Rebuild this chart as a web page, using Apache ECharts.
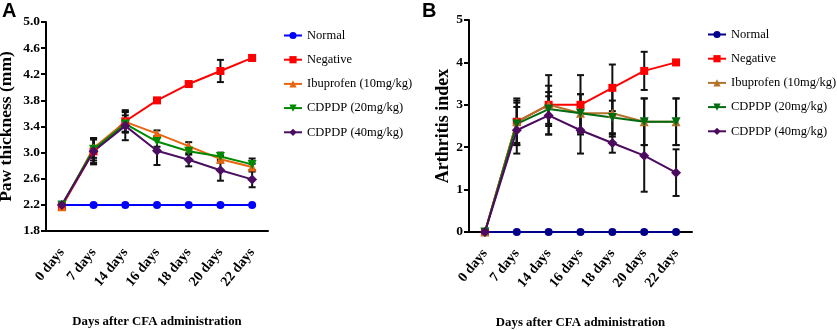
<!DOCTYPE html>
<html><head><meta charset="utf-8">
<script src="https://cdn.jsdelivr.net/npm/echarts@6/dist/echarts.min.js"></script>
<style>
html,body{margin:0;padding:0;background:#fff;}
#wrap{position:relative;width:837px;height:330px;overflow:hidden;}
#a{position:absolute;left:0;top:0;width:420px;height:330px;}
#b{position:absolute;left:420px;top:0;width:417px;height:330px;}
</style></head>
<body><div id="wrap"><div id="a"></div><div id="b"></div></div>
<script>
// ---- shared ----
const categories = ['0 days','7 days','14 days','16 days','18 days','20 days','22 days'];
const seriesNames = ['Normal','Negative','Ibuprofen (10mg/kg)','CDPDP (20mg/kg)','CDPDP (40mg/kg)'];

// ---- Panel A: paw thickness (mm) ----
const pawTicks = [1.8,2.2,2.6,3.0,3.4,3.8,4.2,4.6,5.0];
const pawNormal    = [2.2, 2.2, 2.2, 2.2, 2.2, 2.2, 2.2];
const pawNegative  = [2.18, 3.02, 3.48, 3.80, 4.05, 4.25, 4.45];
const pawIbuprofen = [2.17, 3.07, 3.47, 3.29, 3.10, 2.90, 2.78];
const pawCD20      = [2.2, 3.05, 3.44, 3.17, 3.02, 2.94, 2.82];
const pawCD40      = [2.2, 3.02, 3.41, 3.03, 2.89, 2.73, 2.59];
const pawErrNormal    = [0, 0, 0, 0, 0, 0, 0];
const pawErrNegative  = [0, 0.18, 0.17, 0.03, 0.03, 0.17, 0.04];
const pawErrIbuprofen = [0, 0.15, 0.15, 0.05, 0.06, 0.05, 0.05];
const pawErrCD20      = [0, 0.17, 0.13, 0.08, 0.05, 0.06, 0.09];
const pawErrCD40      = [0, 0.20, 0.22, 0.22, 0.10, 0.16, 0.12];

// ---- Panel B: arthritis index ----
const aiTicks = [0,1,2,3,4,5];
const aiNormal    = [0, 0, 0, 0, 0, 0, 0];
const aiNegative  = [0, 2.6, 3.0, 3.0, 3.4, 3.8, 4.0];
const aiIbuprofen = [0, 2.6, 3.0, 2.8, 2.8, 2.6, 2.6];
const aiCD20      = [0, 2.55, 2.9, 2.8, 2.7, 2.6, 2.6];
const aiCD40      = [0, 2.4, 2.75, 2.4, 2.1, 1.8, 1.4];
const aiErrNormal    = [0, 0, 0, 0, 0, 0, 0];
const aiErrNegative  = [0, 0.5, 0.7, 0.7, 0.55, 0.45, 0.05];
const aiErrIbuprofen = [0, 0.55, 0.45, 0.45, 0.55, 0.55, 0.55];
const aiErrCD20      = [0, 0.5, 0.4, 0.45, 0.4, 0.55, 0.55];
const aiErrCD40      = [0, 0.55, 0.45, 0.55, 0.23, 0.85, 0.55];

const SERIF = '"Liberation Serif","Times New Roman",serif';

function errorSeries(vals, errs){
  return {
    type:'custom', silent:true, z:1,
    renderItem:function(params, api){
      const i = api.value(0), v = api.value(1), e = api.value(2);
      if (!e) return null;
      const top = api.coord([i, v + e]);
      const bot = api.coord([i, v - e]);
      const w = 3.5;
      const st = {stroke:'#111', lineWidth:2};
      return {type:'group', children:[
        {type:'line', shape:{x1:top[0],y1:top[1],x2:bot[0],y2:bot[1]}, style:st},
        {type:'line', shape:{x1:top[0]-w,y1:top[1],x2:top[0]+w,y2:top[1]}, style:st},
        {type:'line', shape:{x1:bot[0]-w,y1:bot[1],x2:bot[0]+w,y2:bot[1]}, style:st}
      ]};
    },
    data: vals.map(function(v,i){ return [i, v, errs[i]]; })
  };
}

const symbols = [
  {symbol:'circle', size:8, rot:0},
  {symbol:'rect', size:8, rot:0},
  {symbol:'triangle', size:9, rot:0},
  {symbol:'triangle', size:9, rot:180},
  {symbol:'diamond', size:10, rot:0}
];

function lineSeries(name, vals, color, k){
  return {
    type:'line', name:name, data:vals, z:3,
    symbol:symbols[k].symbol, symbolSize:symbols[k].size, symbolRotate:symbols[k].rot,
    showAllSymbol:true,
    lineStyle:{color:color, width:2},
    itemStyle:{color:color, borderWidth:0},
    emphasis:{disabled:true}, animation:false
  };
}

function buildOption(cfg){
  const series = [];
  cfg.errs.forEach(function(e, k){ series.push(errorSeries(cfg.vals[k], e)); });
  cfg.vals.forEach(function(v, k){ series.push(lineSeries(seriesNames[k], v, cfg.colors[k], k)); });
  return {
    animation:false,
    title:{text:cfg.letter, left:2, top:1, padding:0, textStyle:{fontFamily:'"Liberation Sans",Arial,sans-serif', fontWeight:'bold', fontSize:20, color:'#000'}},
    grid:{left:cfg.gridLeft, top:cfg.gridTop, width:cfg.gridWidth, height:cfg.gridHeight, containLabel:false, outerBoundsMode:'none'},
    legend:{
      orient:'vertical', left:cfg.legendLeft, top:cfg.legendTop, padding:0,
      itemWidth:18, itemHeight:9, itemGap:11.2,
      data:seriesNames,
      textStyle:{fontFamily:SERIF, fontSize:12.5, color:'#000'},
      selectedMode:false
    },
    xAxis:{
      type:'category', data:categories, boundaryGap:true,
      axisLine:{lineStyle:{color:'#000', width:2}},
      axisTick:{alignWithLabel:true, length:5, lineStyle:{color:'#000', width:2}},
      axisLabel:{rotate:51, interval:0, margin:19, fontFamily:SERIF, fontWeight:'bold', fontSize:14, color:'#000'},
      name:'Days after CFA administration', nameLocation:'middle', nameGap:84, nameMoveOverlap:false,
      nameTextStyle:{fontFamily:SERIF, fontWeight:'bold', fontSize:12.8, color:'#000'}
    },
    yAxis:{
      type:'value', min:cfg.ticks[0], max:cfg.ticks[cfg.ticks.length-1],
      axisLine:{show:true, lineStyle:{color:'#000', width:2}},
      axisTick:{show:true, length:5, lineStyle:{color:'#000', width:2}, customValues:cfg.ticks},
      splitLine:{show:false},
      axisLabel:{customValues:cfg.ticks, margin:6, fontFamily:SERIF, fontWeight:'bold', fontSize:13.5, color:'#000',
        formatter:function(v){ return cfg.fmt(v); }},
      name:cfg.yName, nameLocation:'middle', nameGap:cfg.yNameGap, nameMoveOverlap:false,
      nameTextStyle:{fontFamily:SERIF, fontWeight:'bold', fontSize:cfg.yNameSize, color:'#000'}
    },
    series:series
  };
}

const chartA = echarts.init(document.getElementById('a'), null, {renderer:'canvas'});
chartA.setOption(buildOption({
  letter:'A',
  gridLeft:46, gridTop:22, gridWidth:222, gridHeight:209,
  legendLeft:283, legendTop:29,
  ticks:pawTicks, fmt:function(v){ return v.toFixed(1); },
  yName:'Paw thickness (mm)', yNameGap:31, yNameSize:17.5,
  colors:['#0000FF','#FF0000','#E8650F','#008A00','#4B0F62'],
  vals:[pawNormal, pawNegative, pawIbuprofen, pawCD20, pawCD40],
  errs:[pawErrNormal, pawErrNegative, pawErrIbuprofen, pawErrCD20, pawErrCD40]
}));

const chartB = echarts.init(document.getElementById('b'), null, {renderer:'canvas'});
chartB.setOption(buildOption({
  letter:'B',
  gridLeft:49, gridTop:20, gridWidth:223, gridHeight:212,
  legendLeft:287, legendTop:28,
  ticks:aiTicks, fmt:function(v){ return String(Math.round(v)); },
  yName:'Arthritis index', yNameGap:17, yNameSize:18,
  colors:['#00008B','#FF0000','#B5722A','#006B0F','#4B0A5E'],
  vals:[aiNormal, aiNegative, aiIbuprofen, aiCD20, aiCD40],
  errs:[aiErrNormal, aiErrNegative, aiErrIbuprofen, aiErrCD20, aiErrCD40]
}));
</script>
</body></html>
